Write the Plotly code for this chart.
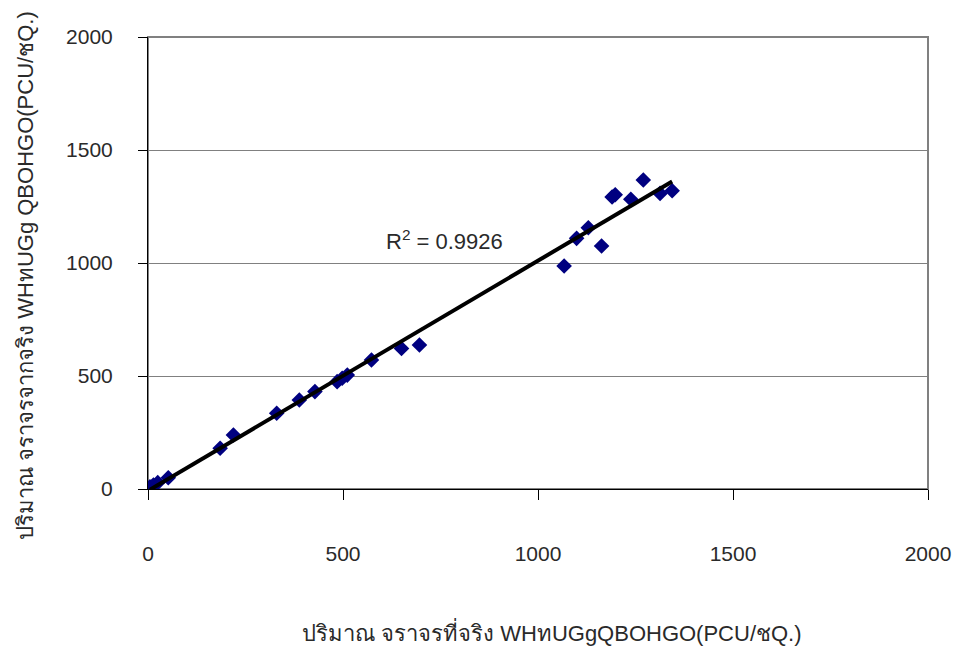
import numpy as np
import plotly.graph_objects as go

# Data
x_vals = [5, 14, 25, 52, 185, 219, 330, 388, 428, 485, 498, 511, 573, 650, 696,
          1067, 1099, 1129, 1163, 1190, 1198, 1238, 1270, 1313, 1344]
y_vals = [10, 18, 28, 50, 180, 239, 335, 394, 431, 475, 490, 504, 571, 622, 637,
          987, 1109, 1156, 1075, 1292, 1302, 1282, 1367, 1308, 1320]
tick_vals = [0, 500, 1000, 1500, 2000]
tick_text = ["0", "500", "1000", "1500", "2000"]
r2_text = "R<sup>2</sup> = 0.9926"
x_title = "ปริมาณ จราจรที่จริง WHทUGgQBOHGO(PCU/ชQ.)"
y_title = "ปริมาณ จราจรจากจริง WHทUGg QBOHGO(PCU/ชQ.)"

# Linear trend line (least squares)
slope, intercept = np.polyfit(x_vals, y_vals, 1)
x_line = [min(x_vals), max(x_vals)]
y_line = [slope * v + intercept for v in x_line]

font_family = "Liberation Sans, Arial, sans-serif"
txt_color = "#2a2a2a"

fig = go.Figure()
fig.add_trace(go.Scatter(
    x=x_vals, y=y_vals, mode="markers",
    marker=dict(symbol="diamond", size=12, color="#000080"),
    showlegend=False, hoverinfo="x+y"))
fig.add_trace(go.Scatter(
    x=x_line, y=y_line, mode="lines",
    line=dict(color="black", width=4),
    showlegend=False, hoverinfo="skip"))

fig.add_annotation(x=759, y=1100, xref="x", yref="y", text=r2_text,
                   showarrow=False,
                   font=dict(family=font_family, size=22, color=txt_color))

# Axis titles placed as annotations (positions match the reference)
fig.add_annotation(x=0.518, y=-0.316, xref="paper", yref="paper", text=x_title,
                   showarrow=False, xanchor="center", yanchor="middle",
                   font=dict(family=font_family, size=22, color=txt_color))
fig.add_annotation(x=-0.158, y=0.473, xref="paper", yref="paper", text=y_title,
                   showarrow=False, textangle=-90, xanchor="center", yanchor="middle",
                   font=dict(family=font_family, size=22, color=txt_color))

# Plot area border (gray) like the reference
fig.add_shape(type="rect", xref="paper", yref="paper", x0=0, y0=0, x1=1, y1=1,
              line=dict(color="#808080", width=2), layer="below")

fig.update_layout(
    width=957, height=648,
    margin=dict(l=148, r=29, t=37, b=159, autoexpand=False),
    paper_bgcolor="white", plot_bgcolor="white",
    font=dict(family=font_family, size=21, color=txt_color),
    xaxis=dict(
        range=[0, 2000], tickvals=tick_vals, ticktext=tick_text,
        showgrid=False, zeroline=False, automargin=False,
        showline=True, linecolor="black", linewidth=1,
        ticks="outside", ticklen=10, tickcolor="black", tickwidth=1,
        ticklabelstandoff=36,
    ),
    yaxis=dict(
        range=[0, 2000], tickvals=tick_vals, ticktext=tick_text,
        showgrid=True, gridcolor="#808080", gridwidth=1,
        zeroline=False, automargin=False,
        showline=True, linecolor="black", linewidth=1,
        ticks="outside", ticklen=9, tickcolor="black", tickwidth=1,
        ticklabelstandoff=21,
    ),
)

fig.write_html("out.html", config={"displayModeBar": False},
               post_script="document.body.style.margin='0';document.body.style.overflow='hidden';")
